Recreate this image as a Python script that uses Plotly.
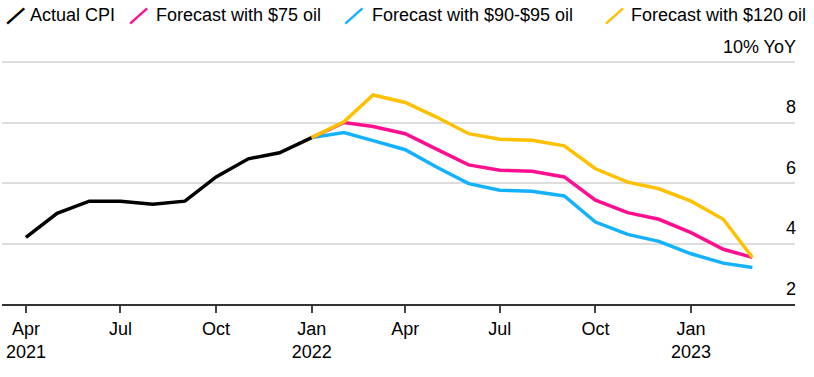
import plotly.graph_objects as go

# ---- data ----
actual_months = ["2021-04-01", "2021-05-01", "2021-06-01", "2021-07-01", "2021-08-01",
                 "2021-09-01", "2021-10-01", "2021-11-01", "2021-12-01", "2022-01-01"]
actual_cpi = [4.2, 5.0, 5.4, 5.4, 5.3, 5.4, 6.2, 6.8, 7.0, 7.5]

forecast_months = ["2022-01-01", "2022-02-01", "2022-03-01", "2022-04-01", "2022-05-01",
                   "2022-06-01", "2022-07-01", "2022-08-01", "2022-09-01", "2022-10-01",
                   "2022-11-01", "2022-12-01", "2023-01-01", "2023-02-01", "2023-03-01"]
forecast_75 = [7.5, 8.0, 7.87, 7.63, 7.12, 6.6, 6.42, 6.39, 6.2, 5.43, 5.02, 4.8, 4.36, 3.81, 3.54]
forecast_90_95 = [7.5, 7.67, 7.4, 7.1, 6.53, 5.98, 5.76, 5.73, 5.57, 4.71, 4.3, 4.07, 3.66, 3.35, 3.21]
forecast_120 = [7.5, 8.02, 8.91, 8.66, 8.18, 7.63, 7.45, 7.41, 7.23, 6.47, 6.03, 5.81, 5.4, 4.8, 3.54]

series_names = ["Actual CPI", "Forecast with $75 oil", "Forecast with $90-$95 oil", "Forecast with $120 oil"]
series_colors = ["#000000", "#ff0f8f", "#14b1ff", "#ffc000"]

x_tick_vals = ["2021-04-01", "2021-07-01", "2021-10-01", "2022-01-01",
               "2022-04-01", "2022-07-01", "2022-10-01", "2023-01-01"]
x_tick_text = ["Apr<br>2021", "Jul", "Oct", "Jan<br>2022", "Apr", "Jul", "Oct", "Jan<br>2023"]
y_tick_vals = [2, 4, 6, 8, 10]
y_tick_text = ["2", "4", "6", "8", "10% YoY"]

FONT = "Liberation Sans, Arial, sans-serif"

fig = go.Figure()
fig.add_trace(go.Scatter(x=actual_months, y=actual_cpi, mode="lines",
                         line=dict(color=series_colors[0], width=3.5), name=series_names[0]))
fig.add_trace(go.Scatter(x=forecast_months, y=forecast_90_95, mode="lines",
                         line=dict(color=series_colors[2], width=3.5), name=series_names[2]))
fig.add_trace(go.Scatter(x=forecast_months, y=forecast_75, mode="lines",
                         line=dict(color=series_colors[1], width=3.5), name=series_names[1]))
fig.add_trace(go.Scatter(x=forecast_months, y=forecast_120, mode="lines",
                         line=dict(color=series_colors[3], width=3.5), name=series_names[3]))

# layout geometry (pixels)
W, H = 814, 377
L, R, T, B = 2, 19, 26, 73
plot_w = W - L - R
plot_h = H - T - B
px_per_unit = (304 - 62) / 8.0
y_top = 2 + (304 - T) / px_per_unit


def py(pix):  # pixel row -> paper y
    return (H - B - pix) / plot_h


# custom legend (slash glyph + label) along the top
slash_px = [14, 137, 352, 613]
text_px = [28, 154, 370, 629]
annotations = []
for name, color, sp, tp in zip(series_names, series_colors, slash_px, text_px):
    annotations.append(dict(xref="paper", yref="paper", x=(sp - L) / plot_w, y=py(15),
                            xanchor="center", yanchor="middle", showarrow=False,
                            text="<b>—</b>", textangle=-42,
                            font=dict(family=FONT, size=23, color=color)))
    annotations.append(dict(xref="paper", yref="paper", x=(tp - L) / plot_w, y=py(15),
                            xanchor="left", yanchor="middle", showarrow=False,
                            text=name, font=dict(family=FONT, size=18, color="#000000")))

fig.update_layout(
    width=W, height=H,
    margin=dict(l=L, r=R, t=T, b=B),
    paper_bgcolor="white", plot_bgcolor="white",
    showlegend=False,
    font=dict(family=FONT, size=18, color="#000000"),
    annotations=annotations,
    xaxis=dict(type="date", range=["2021-03-09", "2023-04-11"],
               tickvals=x_tick_vals, ticktext=x_tick_text,
               showgrid=False, zeroline=False,
               showline=True, linecolor="#333333", linewidth=2,
               ticks="outside", ticklen=7, tickwidth=1.5, tickcolor="#444444",
               tickfont=dict(family=FONT, size=18, color="#000000")),
    yaxis=dict(range=[2, y_top], side="right", tickvals=y_tick_vals, ticktext=y_tick_text,
               ticklabelposition="inside top", ticklabelshift=-3, ticklabelstandoff=-4,
               showgrid=True, gridcolor="#dddddd", gridwidth=1.5,
               zeroline=False, showline=False, ticks="",
               tickfont=dict(family=FONT, size=18, color="#000000")),
)

fig.write_html("out.html", config={"displayModeBar": False},
               post_script="document.documentElement.style.margin='0';"
                           "document.body.style.margin='0';document.body.style.padding='0';")
